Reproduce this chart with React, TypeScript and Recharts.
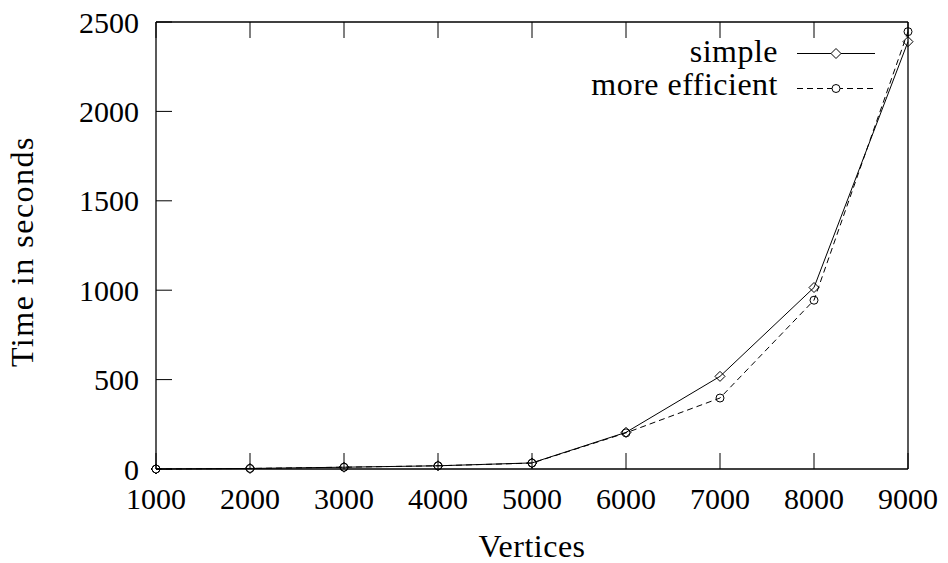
import React from "react";
import { LineChart, Line, XAxis, YAxis, Legend } from "recharts";

const vertices = [1000, 2000, 3000, 4000, 5000, 6000, 7000, 8000, 9000];
const simpleTimes = [0, 3, 10, 18, 34, 205, 518, 1015, 2390];
const efficientTimes = [0, 3, 10, 18, 33, 202, 397, 944, 2446];
const xTicks = [1000, 2000, 3000, 4000, 5000, 6000, 7000, 8000, 9000];
const yTicks = [0, 500, 1000, 1500, 2000, 2500];
const seriesNames = ["simple", "more efficient"];

const data = vertices.map((v, i) => ({
  v,
  simple: simpleTimes[i],
  efficient: efficientTimes[i],
}));

const FONT = "Liberation Serif";

const diamondPath = (cx: number, cy: number, r = 5) =>
  `M${cx},${cy - r} L${cx + r},${cy} L${cx},${cy + r} L${cx - r},${cy} Z`;

const DiamondDot = (p: any) => {
  if (p.cx == null || p.cy == null) return <g key={p.key} />;
  return (
    <path
      key={p.key}
      d={diamondPath(p.cx, p.cy)}
      fill="none"
      stroke="#000"
      strokeWidth={1}
    />
  );
};

const CircleDot = (p: any) => {
  if (p.cx == null || p.cy == null) return <g key={p.key} />;
  return (
    <circle
      key={p.key}
      cx={p.cx}
      cy={p.cy}
      r={4}
      fill="none"
      stroke="#000"
      strokeWidth={1}
    />
  );
};

const LegendContent = () => {
  const rows = [
    { name: seriesNames[0], dash: undefined, marker: "diamond", base: 62, line: 53.5 },
    { name: seriesNames[1], dash: "6 4", marker: "circle", base: 95, line: 88.5 },
  ];
  return (
    <svg width={948} height={110} style={{ display: "block" }}>
      {rows.map((r) => (
        <g key={r.name}>
          <text
            x={778}
            y={r.base}
            textAnchor="end"
            fontFamily={FONT}
            fontSize={32}
            letterSpacing={0.5}
            fill="#000"
          >
            {r.name}
          </text>
          <line
            x1={797}
            x2={875}
            y1={r.line}
            y2={r.line}
            stroke="#000"
            strokeWidth={1}
            strokeDasharray={r.dash}
          />
          {r.marker === "diamond" ? (
            <path d={diamondPath(836, r.line)} fill="#fff" stroke="#000" strokeWidth={1} />
          ) : (
            <circle cx={836} cy={r.line} r={4} fill="#fff" stroke="#000" strokeWidth={1} />
          )}
        </g>
      ))}
    </svg>
  );
};

const tickStyle = { fontFamily: FONT, fontSize: 30, fill: "#000" };

const YLabel = (props: any) => {
  const vb = props.viewBox || {};
  const x = vb.x + 33;
  const y = vb.y + vb.height / 2 + 6;
  return (
    <text
      x={x}
      y={y}
      transform={`rotate(-90, ${x}, ${y})`}
      textAnchor="middle"
      fontFamily={FONT}
      fontSize={32}
      letterSpacing={1.5}
      fill="#000"
    >
      Time in seconds
    </text>
  );
};

const XLabel = (props: any) => {
  const vb = props.viewBox || {};
  const x = vb.x + vb.width / 2;
  const y = vb.y + vb.height - 6;
  return (
    <text
      x={x}
      y={y}
      textAnchor="middle"
      fontFamily={FONT}
      fontSize={32}
      letterSpacing={0.5}
      fill="#000"
    >
      Vertices
    </text>
  );
};

export default function App() {
  return (
    <div style={{ position: "absolute", left: 0, top: 0, width: 948, height: 563, background: "#fff" }}>
      <LineChart
        width={948}
        height={563}
        data={data}
        margin={{ top: 0, right: 0, bottom: 0, left: 0 }}
      >
        <XAxis
          dataKey="v"
          type="number"
          domain={[1000, 9000]}
          ticks={xTicks}
          height={94}
          tickSize={-16}
          tickMargin={35}
          tick={tickStyle}
          stroke="#000"
          axisLine={{ stroke: "#000", strokeWidth: 1.3 }}
          tickLine={{ stroke: "#000", strokeWidth: 1 }}
          label={<XLabel />}
        />
        <XAxis
          xAxisId="top"
          orientation="top"
          dataKey="v"
          type="number"
          domain={[1000, 9000]}
          ticks={xTicks}
          height={22}
          tickSize={-16}
          tickFormatter={() => ""}
          stroke="#000"
          axisLine={{ stroke: "#000", strokeWidth: 1.3 }}
          tickLine={{ stroke: "#000", strokeWidth: 1 }}
        />
        <YAxis
          type="number"
          domain={[0, 2500]}
          ticks={yTicks}
          width={156}
          tickSize={-16}
          tickMargin={33}
          tick={tickStyle}
          stroke="#000"
          axisLine={{ stroke: "#000", strokeWidth: 1.3 }}
          tickLine={{ stroke: "#000", strokeWidth: 1 }}
          label={<YLabel />}
        />
        <YAxis
          yAxisId="right"
          orientation="right"
          type="number"
          domain={[0, 2500]}
          ticks={yTicks}
          width={40}
          tickSize={-16}
          tickFormatter={() => ""}
          stroke="#000"
          axisLine={{ stroke: "#000", strokeWidth: 1.3 }}
          tickLine={{ stroke: "#000", strokeWidth: 1 }}
        />
        <Legend
          layout="horizontal"
          verticalAlign="middle"
          align="center"
          content={<LegendContent />}
          wrapperStyle={{ position: "absolute", left: 0, top: 0, width: 948, height: 110 }}
        />
        <Line
          type="linear"
          dataKey="simple"
          name={seriesNames[0]}
          stroke="#000"
          strokeWidth={1}
          dot={DiamondDot}
          activeDot={false}
          isAnimationActive={false}
        />
        <Line
          type="linear"
          dataKey="efficient"
          name={seriesNames[1]}
          stroke="#000"
          strokeWidth={1}
          strokeDasharray="6 4"
          dot={CircleDot}
          activeDot={false}
          isAnimationActive={false}
        />
      </LineChart>
    </div>
  );
}
